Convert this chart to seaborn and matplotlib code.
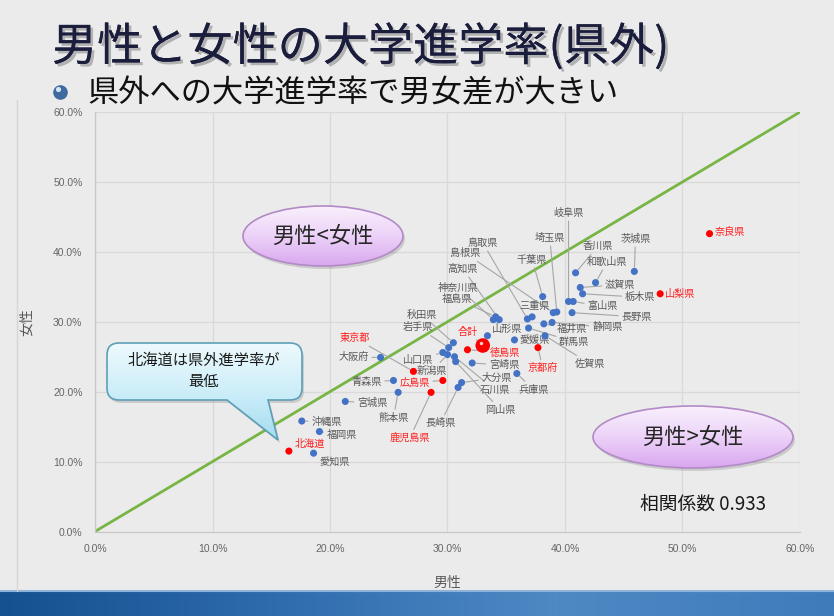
import numpy as np
import pandas as pd
import matplotlib
matplotlib.use("Agg")
import matplotlib.pyplot as plt
import matplotlib.patheffects as pe
from matplotlib.patches import Ellipse, PathPatch
from matplotlib.path import Path
import seaborn as sns

# 県外への大学進学率 (%)
prefs = ["香川県", "和歌山県", "滋賀県", "栃木県", "茨城県", "岐阜県", "富山県", "長野県",
         "千葉県", "埼玉県", "島根県", "静岡県", "福井県", "佐賀県", "愛媛県", "群馬県",
         "鳥取県", "三重県", "高知県", "神奈川県", "福島県", "山形県", "合計", "徳島県",
         "京都府", "宮崎県", "兵庫県", "秋田県", "岩手県", "山口県", "新潟県", "石川県",
         "岡山県", "大分県", "長崎県", "東京都", "大阪府", "広島県", "鹿児島県", "青森県",
         "熊本県", "宮城県", "沖縄県", "福岡県", "北海道", "愛知県", "奈良県", "山梨県"]
male = [40.9, 42.6, 41.3, 41.5, 45.9, 40.3, 40.7, 40.6,
        38.1, 39.3, 39.0, 38.9, 38.2, 38.3, 35.7, 36.9,
        36.8, 37.2, 34.4, 33.9, 34.1, 33.4, 33.0, 31.7,
        37.7, 32.1, 35.9, 30.5, 30.1, 29.6, 30.0, 30.6,
        30.7, 31.2, 30.9, 27.1, 24.3, 29.6, 28.6, 25.4,
        25.8, 21.3, 17.6, 19.1, 16.5, 18.6, 52.3, 48.1]
female = [37.0, 35.6, 34.9, 34.0, 37.2, 32.9, 32.9, 31.3,
          33.6, 31.4, 31.3, 29.9, 29.7, 28.0, 27.4, 29.1,
          30.4, 30.7, 30.3, 30.3, 30.7, 28.0, 26.6, 26.0,
          26.3, 24.1, 22.6, 27.0, 26.3, 25.6, 25.3, 25.0,
          24.3, 21.3, 20.6, 22.9, 24.9, 21.6, 19.9, 21.6,
          19.9, 18.6, 15.8, 14.3, 11.5, 11.2, 42.6, 34.0]
red_prefs = ["東京都", "京都府", "奈良県", "山梨県", "北海道", "広島県", "鹿児島県", "徳島県"]
total_name = "合計"
corr_text = "相関係数 0.933"
diag = [0, 60]
ticks = [0, 10, 20, 30, 40, 50, 60]

# label placement (layout only)
label_xy = {
    "岐阜県": (40.3, 45.6), "埼玉県": (38.7, 42.0), "香川県": (42.8, 40.8), "茨城県": (46.0, 41.9),
    "和歌山県": (43.6, 38.6), "滋賀県": (44.7, 35.3), "栃木県": (46.4, 33.5), "富山県": (43.2, 32.2),
    "長野県": (46.1, 30.7), "鳥取県": (33.0, 41.3), "島根県": (31.5, 39.8), "千葉県": (37.2, 38.9),
    "高知県": (31.3, 37.6), "神奈川県": (30.9, 34.9), "福島県": (30.8, 33.3), "三重県": (37.4, 32.2),
    "秋田県": (27.8, 31.0), "岩手県": (27.5, 29.2), "合計": (31.7, 28.6), "山形県": (35.1, 29.0),
    "福井県": (40.6, 29.0), "静岡県": (43.6, 29.2), "愛媛県": (37.4, 27.4), "群馬県": (40.8, 27.1),
    "東京都": (22.1, 27.7), "大阪府": (22.0, 24.9), "徳島県": (34.9, 25.6), "山口県": (27.5, 24.6),
    "宮崎県": (34.8, 23.8), "京都府": (38.1, 23.4), "佐賀県": (42.1, 24.0), "新潟県": (28.7, 23.0),
    "大分県": (34.2, 22.0), "青森県": (23.1, 21.4), "広島県": (27.2, 21.3), "石川県": (34.0, 20.3),
    "兵庫県": (37.3, 20.3), "宮城県": (23.6, 18.4), "岡山県": (34.5, 17.4), "熊本県": (25.4, 16.3),
    "長崎県": (29.4, 15.5), "沖縄県": (19.7, 15.7), "福岡県": (21.0, 13.8), "鹿児島県": (26.8, 13.4),
    "北海道": (18.3, 12.5), "愛知県": (20.4, 10.0), "奈良県": (54.0, 42.8), "山梨県": (49.8, 34.0),
}

df = pd.DataFrame({"pref": prefs, "男性": male, "女性": female})
df["group"] = np.where(df["pref"] == total_name, "total",
                       np.where(df["pref"].isin(red_prefs), "red", "blue"))

sns.set_theme(style="white")
plt.rcParams["font.family"] = ["Noto Sans CJK JP", "DejaVu Sans"]

W, H = 834, 616
fig = plt.figure(figsize=(W / 100, H / 100), dpi=100, facecolor="#ebebeb")

# background layer
bg = fig.add_axes([0, 0, 1, 1], zorder=0)
bg.set_xlim(0, W)
bg.set_ylim(H, 0)
bg.axis("off")
band = np.linspace(0, 1, 256).reshape(1, -1)
bg.imshow(band, cmap=matplotlib.colors.LinearSegmentedColormap.from_list(
    "b", ["#15508f", "#2f6cae", "#4f89c4", "#3f7bbb"]),
    extent=(0, W, H, 591), aspect="auto")
bg.plot([0, W], [591, 591], color="#8fb3d8", lw=1.5)
bg.plot([17, 17], [100, 591], color="#d6d6d6", lw=1)

# main chart
ax = fig.add_axes([95 / W, 1 - 531.5 / H, 705 / W, 419.5 / H], zorder=1)
ax.set_facecolor("none")
ax.set_xlim(0, 60)
ax.set_ylim(0, 60)
ax.set_xticks(ticks)
ax.set_yticks(ticks)
ax.set_xticklabels([f"{t:.1f}%" for t in ticks])
ax.set_yticklabels([f"{t:.1f}%" for t in ticks])
ax.tick_params(labelsize=7.5, labelcolor="#666666", length=0, pad=9,
               labelfontfamily="Liberation Sans")
ax.grid(True, color="#d9d9d9", lw=0.9)
for s in ["top", "right"]:
    ax.spines[s].set_visible(False)
for s in ["left", "bottom"]:
    ax.spines[s].set_color("#c8c8c8")
    ax.spines[s].set_linewidth(0.9)

ax.plot(diag, diag, color="#77b545", lw=2, zorder=2)

sns.scatterplot(data=df, x="男性", y="女性", hue="group", size="group",
                palette={"blue": "#4472c4", "red": "#ff0000", "total": "#ff0000"},
                sizes={"blue": 26, "red": 26, "total": 110},
                edgecolor="none", legend=False, ax=ax, zorder=3)
t = df[df["group"] == "total"].iloc[0]
ax.scatter([t["男性"] - 0.15], [t["女性"] + 0.4], s=6, color="#ffd0d0", zorder=4, lw=0)

for _, r in df.iterrows():
    col = "#ff2020" if r["group"] != "blue" else "#595959"
    ax.annotate(r["pref"], xy=(r["男性"], r["女性"]), xytext=label_xy[r["pref"]],
                ha="center", va="center", fontsize=7.3, color=col,
                arrowprops=dict(arrowstyle="-", color="#a6a6a6", lw=0.8,
                                shrinkA=0, shrinkB=3), zorder=2)

ax.set_xlabel("男性", fontsize=10, color="#595959", labelpad=16)
ax.set_ylabel("女性", fontsize=10, color="#595959", labelpad=14)

# overlay: title, shapes
ov = fig.add_axes([0, 0, 1, 1], zorder=2)
ov.set_xlim(0, W)
ov.set_ylim(H, 0)
ov.axis("off")
ov.patch.set_alpha(0)

ov.text(52, 47, "男性と女性の大学進学率(県外)", fontsize=32.5, color="#1b1d3c",
        va="center", ha="left",
        path_effects=[pe.withSimplePatchShadow(offset=(2, -2), shadow_rgbFace="#7a7a7a", alpha=0.5),
                      pe.Normal()])
ov.scatter([60], [92], s=90, color="#3e6aa0", zorder=5)
ov.scatter([58], [89], s=14, color="#d5e3f3", zorder=6, lw=0)
ov.text(87, 93, "県外への大学進学率で男女差が大きい", fontsize=22.5, color="#111111",
        va="center", ha="left")


def grad_ellipse(cx, cy, w, h, text):
    sh = Ellipse((cx + 2, cy + 3), w, h, facecolor="#00000022", edgecolor="none")
    ov.add_patch(sh)
    e = Ellipse((cx, cy), w, h, facecolor="none", edgecolor="#b28ac6", lw=1.2, zorder=3)
    ov.add_patch(e)
    g = np.linspace(0, 1, 128).reshape(-1, 1)
    im = ov.imshow(g, cmap=matplotlib.colors.LinearSegmentedColormap.from_list(
        "p", ["#f9f0fd", "#ecd2f8", "#d9a7ef"]),
        extent=(cx - w / 2, cx + w / 2, cy + h / 2, cy - h / 2), aspect="auto", zorder=2)
    im.set_clip_path(e)
    ov.text(cx, cy, text, fontsize=16, color="#262626", ha="center", va="center", zorder=4)


grad_ellipse(323, 236, 160, 60, "男性<女性")
grad_ellipse(693, 437, 200, 62, "男性>女性")

# callout
x0, x1, y0, y1, rr = 107, 302, 343, 400, 12
verts = [(x0 + rr, y0), (x1 - rr, y0), (x1, y0), (x1, y0 + rr), (x1, y1 - rr), (x1, y1),
         (x1 - rr, y1), (268, y1), (278, 440), (227, y1), (x0 + rr, y1), (x0, y1),
         (x0, y1 - rr), (x0, y0 + rr), (x0, y0), (x0 + rr, y0), (x0 + rr, y0)]
codes = [Path.MOVETO, Path.LINETO, Path.CURVE3, Path.CURVE3, Path.LINETO, Path.CURVE3,
         Path.CURVE3, Path.LINETO, Path.LINETO, Path.LINETO, Path.LINETO, Path.CURVE3,
         Path.CURVE3, Path.LINETO, Path.CURVE3, Path.CURVE3, Path.CLOSEPOLY]
cpath = Path(verts, codes)
ov.add_patch(PathPatch(Path([(x + 2, y + 3) for x, y in verts], codes),
                       facecolor="#00000022", edgecolor="none"))
cp = PathPatch(cpath, facecolor="none", edgecolor="#5d9fb6", lw=1.2, zorder=3)
ov.add_patch(cp)
g = np.linspace(0, 1, 128).reshape(-1, 1)
im = ov.imshow(g, cmap=matplotlib.colors.LinearSegmentedColormap.from_list(
    "c", ["#eef9fd", "#cdeef9", "#a5dcf0"]),
    extent=(x0, x1, 440, y0), aspect="auto", zorder=2)
im.set_clip_path(cp)
ov.text(204, 371, "北海道は県外進学率が\n最低", fontsize=11, color="#1a1a1a",
        ha="center", va="center", linespacing=1.3, zorder=4)

ov.text(703, 504, corr_text, fontsize=13.5, color="#1a1a1a", ha="center", va="center")

fig.savefig("out.png", dpi=100, facecolor=fig.get_facecolor())
